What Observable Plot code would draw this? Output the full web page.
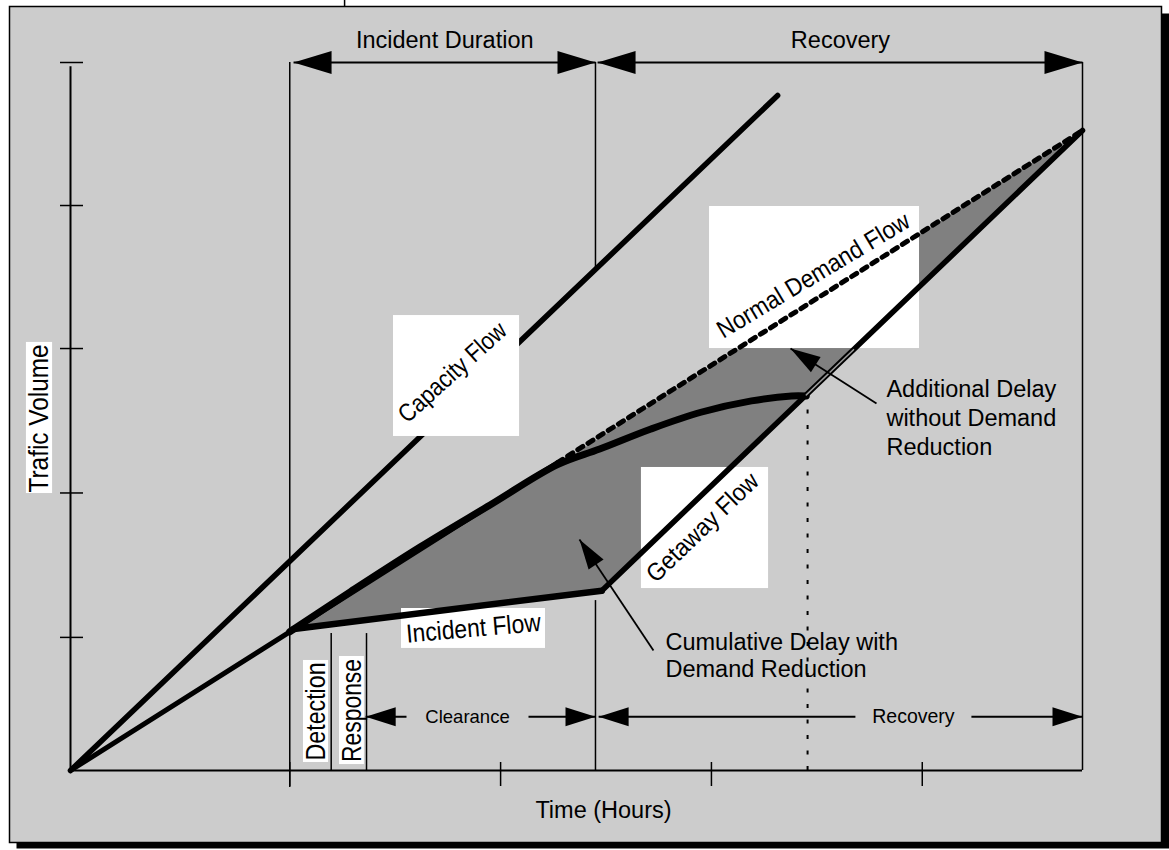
<!DOCTYPE html>
<html><head><meta charset="utf-8">
<script src="https://cdn.jsdelivr.net/npm/d3@7"></script>
<script src="https://cdn.jsdelivr.net/npm/@observablehq/plot@0.6"></script>
<style>body{margin:0;background:#fff}</style>
</head><body><div id="chart"></div>
<script>
// x: time (hours), y: cumulative traffic volume (arbitrary units)
const xTicks = [1.04, 2.04, 3.04, 4.04];
const yTicks = [0.94, 1.96, 2.98, 3.99, 5];

// flow curves
const capacityT = [0, 3.354];
const capacityV = [0, 4.767];
const demandT = [0, 2.31, 4.8];
const demandV = [0, 2.175, 4.52];
const reducedT = [1.04, 1.33, 1.66, 1.99, 2.31, 2.51, 2.75, 2.99, 3.23, 3.42, 3.49];
const reducedV = [0.98, 1.265, 1.58, 1.875, 2.16, 2.27, 2.41, 2.53, 2.61, 2.645, 2.645];
const incidentT = [1.06, 2.52];
const incidentV = [1.0, 1.27];
const getawayT = [2.52, 4.8];
const getawayV = [1.27, 4.52];

// event times
const eventNames = ["Incident", "Response", "Clearance", "Cleared", "Demand reduction end", "Recovered"];
const eventTimes = [1.04, 1.2365, 1.404, 2.49, 3.496, 4.8];

// dimension arrows
const spanLabels = ["Incident Duration", "Recovery", "Clearance", "Recovery"];
const spanStart = [1.058, 2.50, 1.40, 2.505];
const spanEnd = [2.49, 4.8, 2.49, 4.8];
const spanLevel = [5, 5, 0.38, 0.38];
const spanLabelT = [1.775, 3.652, 1.883, 3.998];

// callouts
const calloutText = ["Additional Delay\nwithout Demand\nReduction", "Cumulative Delay with\nDemand Reduction"];
const calloutTipT = [3.415, 2.414];
const calloutTipV = [2.98, 1.631];
const calloutTailT = [3.823, 2.765];
const calloutTailV = [2.592, 0.847];
const calloutTextT = [3.870, 2.822];
const calloutTextV = [2.782, 0.987];

// boxed labels
const flowLabels = ["Capacity Flow", "Normal Demand Flow", "Getaway Flow", "Incident Flow", "Trafic Volume", "Detection", "Response"];
const labelT = [1.812, 3.524, 2.998, 1.911, -0.147, 1.164, 1.335];
const labelV = [2.811, 3.496, 1.716, 1.003, 2.486, 0.417, 0.424];
const boxT1 = [1.532, 3.031, 2.708, 1.570, -0.209, 1.105, 1.276];
const boxT2 = [2.130, 4.027, 3.311, 2.253, -0.085, 1.224, 1.394];
const boxV1 = [2.359, 2.980, 1.285, 0.862, 1.956, 0.0565, 0.042];
const boxV2 = [3.213, 3.983, 2.140, 1.144, 3.023, 0.777, 0.805];

// ---- build ----
const W = 1169, H = 850;
const mL = 70, mR = 87, mT = 62, mB = 80;
const xDom = [0, 4.8], yDom = [0, 5];
const kx = (W - mL - mR) / (xDom[1] - xDom[0]);
const ky = (H - mT - mB) / (yDom[1] - yDom[0]);
const pts = (T, V) => T.map((t, i) => ({t, v: V[i]}));
const head = (L, w) => ({draw(ctx) { ctx.moveTo(0, 0); ctx.lineTo(-L, -w); ctx.lineTo(-L, w); ctx.closePath(); }});

const reduced = pts(reducedT, reducedV);
const demand = pts(demandT, demandV);
const poly = [
  ...reduced.filter(d => d.t <= demandT[1]),
  {t: demandT[2], v: demandV[2]},
  {t: getawayT[1], v: getawayV[1]},
  {t: getawayT[0], v: getawayV[0]},
  {t: incidentT[0], v: incidentV[0]}
];

const spans = spanLabels.map((label, i) => ({label, s: spanStart[i], e: spanEnd[i], y: spanLevel[i], lt: spanLabelT[i], top: spanLevel[i] > 1}));
const gapHalfPx = {"Clearance": 61, "Recovery": 58};
const shafts = [];
spans.forEach(d => {
  if (d.top) shafts.push({x1: d.s, x2: d.e, y: d.y});
  else {
    const g = gapHalfPx[d.label] / kx;
    shafts.push({x1: d.s, x2: d.lt - g, y: d.y});
    shafts.push({x1: d.lt + g, x2: d.e, y: d.y});
  }
});

const callouts = calloutText.map((text, i) => ({
  text, tipT: calloutTipT[i], tipV: calloutTipV[i], tailT: calloutTailT[i], tailV: calloutTailV[i],
  tx: calloutTextT[i], tv: calloutTextV[i],
  angle: Math.atan2(-(calloutTipV[i] - calloutTailV[i]) * ky, (calloutTipT[i] - calloutTailT[i]) * kx) * 180 / Math.PI
}));

const labels = flowLabels.map((name, i) => ({name, t: labelT[i], v: labelV[i], x1: boxT1[i], x2: boxT2[i], y1: boxV1[i], y2: boxV2[i]}));
const labelRotate = {"Capacity Flow": -42, "Normal Demand Flow": -31, "Getaway Flow": -44, "Incident Flow": -5, "Trafic Volume": -90, "Detection": -90, "Response": -90};
const labelSize = {"Capacity Flow": 25, "Normal Demand Flow": 25, "Getaway Flow": 25, "Incident Flow": 26, "Trafic Volume": 28, "Detection": 27, "Response": 27};
const labelLength = new Map([["Capacity Flow", 136], ["Normal Demand Flow", 220], ["Getaway Flow", 145], ["Incident Flow", 135], ["Trafic Volume", 148], ["Detection", 98], ["Response", 103]]);

const font = "'Liberation Sans', Arial, sans-serif";
const [tInc, tResp, tClr, tCleared, tRedEnd, tRec] = eventTimes;
const getawayAt = t => getawayV[0] + (t - getawayT[0]) * (getawayV[1] - getawayV[0]) / (getawayT[1] - getawayT[0]);

const marks = [
  // shadow and panel
  Plot.frame({fill: "black", stroke: "none", insetLeft: -54, insetTop: -49, insetRight: -87, insetBottom: -78}),
  Plot.frame({fill: "#cccccc", stroke: "black", strokeWidth: 1.5, insetLeft: -61, insetTop: -56, insetRight: -79, insetBottom: -72}),
  Plot.ruleX([1.30], {y1: 5.39, y2: 5.45, stroke: "black", strokeWidth: 1.5}),
  // delay region
  Plot.line(poly, {x: "t", y: "v", fill: "#808080", stroke: "none"}),
  // capacity line (under its label box)
  Plot.line(pts(capacityT, capacityV), {x: "t", y: "v", stroke: "black", strokeWidth: 5.5}),
  // white label boxes
  Plot.rect(labels, {x1: "x1", x2: "x2", y1: "y1", y2: "y2", fill: "white"}),
  // axes
  Plot.ruleX([0], {y1: 0, y2: 4.97, stroke: "black", strokeWidth: 2}),
  Plot.ruleY([0], {x1: 0, x2: tRec, stroke: "black", strokeWidth: 2}),
  Plot.ruleY(yTicks, {x1: -10 / kx, x2: 13 / kx, stroke: "black", strokeWidth: 1.5}),
  Plot.ruleX(xTicks, {y1: -16 / ky, y2: 8 / ky, stroke: "black", strokeWidth: 1.5}),
  // event verticals
  Plot.ruleX([tInc], {y1: -17 / ky, y2: 5, stroke: "black", strokeWidth: 1.5}),
  Plot.ruleX([tCleared], {y1: 3.54, y2: 5, stroke: "black", strokeWidth: 1.5}),
  Plot.ruleX([tCleared], {y1: 0, y2: 1.2, stroke: "black", strokeWidth: 1.5}),
  Plot.ruleX([tRec], {y1: 0, y2: 5, stroke: "black", strokeWidth: 1.5}),
  Plot.ruleX([tResp, tClr], {y1: 0, y2: 0.967, stroke: "black", strokeWidth: 1.5}),
  Plot.ruleX([tRedEnd], {y1: 0, y2: 2.6, stroke: "black", strokeWidth: 2, strokeDasharray: "4,11.5"}),
  // flows
  Plot.line(demand.slice(0, 2), {x: "t", y: "v", stroke: "black", strokeWidth: 5}),
  Plot.line(demand.slice(1), {x: "t", y: "v", stroke: "black", strokeWidth: 5, strokeDasharray: "6,6"}),
  Plot.line(reduced, {x: "t", y: "v", stroke: "black", strokeWidth: 7, curve: "catmull-rom"}),
  Plot.line(pts(incidentT, incidentV), {x: "t", y: "v", stroke: "black", strokeWidth: 6.5}),
  Plot.line(pts(getawayT, getawayV), {x: "t", y: "v", stroke: "black", strokeWidth: 5.5}),
  Plot.line([{t: 3.49, v: getawayAt(3.49)}, {t: 3.714, v: getawayAt(3.714)}], {x: "t", y: "v", stroke: "#9a9a9a", strokeWidth: 1.5}),
  // dimension arrows
  Plot.link(shafts, {x1: "x1", x2: "x2", y1: "y", y2: "y", stroke: "black", strokeWidth: 2}),
  Plot.dot(spans.filter(d => d.top), {x: "s", y: "y", symbol: head(38, 11.5), fill: "black", stroke: "none", rotate: 180}),
  Plot.dot(spans.filter(d => d.top), {x: "e", y: "y", symbol: head(38, 11.5), fill: "black", stroke: "none", rotate: 0}),
  Plot.dot(spans.filter(d => !d.top), {x: "s", y: "y", symbol: head(30, 9.5), fill: "black", stroke: "none", rotate: 180}),
  Plot.dot(spans.filter(d => !d.top), {x: "e", y: "y", symbol: head(30, 9.5), fill: "black", stroke: "none", rotate: 0}),
  Plot.text(spans.filter(d => d.top), {x: "lt", y: 5.155, text: "label", fontSize: 23.5, fill: "black"}),
  Plot.text(spans.filter(d => !d.top && d.label === "Clearance"), {x: "lt", y: "y", text: "label", fontSize: 18.5, fill: "black"}),
  Plot.text(spans.filter(d => !d.top && d.label === "Recovery"), {x: "lt", y: "y", text: "label", fontSize: 19.5, fill: "black"}),
  // callouts
  Plot.link(callouts, {x1: "tailT", y1: "tailV", x2: "tipT", y2: "tipV", stroke: "black", strokeWidth: 1.8}),
  ...callouts.map(c => Plot.dot([c], {x: "tipT", y: "tipV", symbol: head(30, 9), fill: "black", stroke: "none", rotate: c.angle})),
  Plot.text(callouts.slice(0, 1), {x: "tx", y: "tv", text: "text", textAnchor: "start", lineAnchor: "top", lineHeight: 1.23, fontSize: 23.5, fill: "black"}),
  Plot.text(callouts.slice(1), {x: "tx", y: "tv", text: "text", textAnchor: "start", lineAnchor: "top", lineHeight: 1.15, fontSize: 23.5, fill: "black"}),
  // boxed labels
  ...labels.map(d => Plot.text([d], {x: "t", y: "v", text: "name", rotate: labelRotate[d.name], fontSize: labelSize[d.name], fill: "black"})),
  // axis title
  Plot.text(["Time (Hours)"], {x: 2.528, y: -0.2825, text: d => d, fontSize: 23.5, fill: "black"})
];

const svg = Plot.plot({
  width: W, height: H,
  marginLeft: mL, marginRight: mR, marginTop: mT, marginBottom: mB,
  x: {domain: xDom, axis: null},
  y: {domain: yDom, axis: null},
  style: {fontFamily: font, background: "white", color: "black", overflow: "visible"},
  marks
});

d3.select(svg).selectAll("text").each(function() {
  const L = labelLength.get(this.textContent);
  if (L) { this.setAttribute("textLength", L); this.setAttribute("lengthAdjust", "spacingAndGlyphs"); }
});
document.getElementById("chart").appendChild(svg);
</script>
</body></html>
